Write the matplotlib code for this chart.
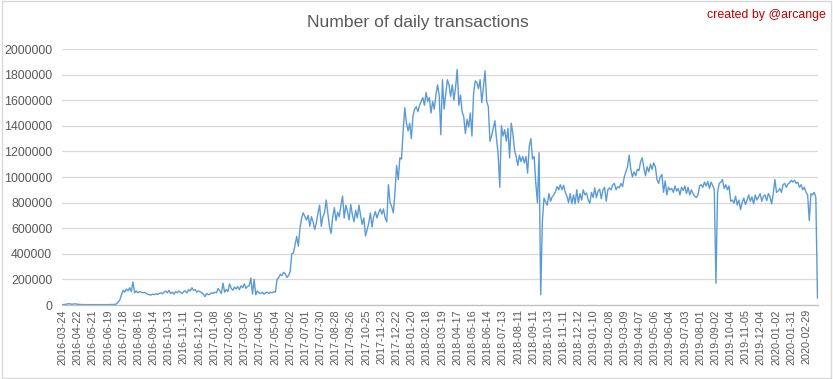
import numpy as np
import matplotlib
matplotlib.use("Agg")
import matplotlib.pyplot as plt

# tick labels on the category axis (one every 29 days of data)
tick_labels = [
    "2016-03-24", "2016-04-22", "2016-05-21", "2016-06-19", "2016-07-18", "2016-08-16",
    "2016-09-14", "2016-10-13", "2016-11-11", "2016-12-10", "2017-01-08", "2017-02-06",
    "2017-03-07", "2017-04-05", "2017-05-04", "2017-06-02", "2017-07-01", "2017-07-30",
    "2017-08-28", "2017-09-26", "2017-10-25", "2017-11-23", "2017-12-22", "2018-01-20",
    "2018-02-18", "2018-03-19", "2018-04-17", "2018-05-16", "2018-06-14", "2018-07-13",
    "2018-08-11", "2018-09-11", "2018-10-13", "2018-11-11", "2018-12-12", "2019-01-10",
    "2019-02-08", "2019-03-09", "2019-04-07", "2019-05-06", "2019-06-04", "2019-07-03",
    "2019-08-01", "2019-09-02", "2019-10-04", "2019-11-05", "2019-12-04", "2020-01-02",
    "2020-01-31", "2020-02-29",
]
tick_every = 29
last_day = 1442  # index of the last data day

tx_2016 = [2, 4, 6, 8, 10, 7, 6, 8, 9, 6, 5, 4, 4, 3, 3, 3, 3, 3, 3, 3, 3, 3, 3, 3, 3, 3, 3,
           3, 3, 3, 4, 4, 5,
           8, 25, 40, 80, 115, 100, 125, 110, 135, 105, 180, 95,
           110, 95, 105, 100, 95, 100, 90, 85, 80, 78, 85, 80, 88, 82, 90, 95, 88, 100, 108,
           95, 115, 90, 100, 85, 105, 95, 110, 100, 90, 105, 110, 95, 120, 110, 135, 115, 120,
           100, 110]
tx_2017 = [105, 95, 85, 65, 90, 80, 85, 95, 90, 100,
           95, 130, 110, 90, 170, 100, 120, 105, 165, 130, 115, 140, 125, 145, 120, 150, 135,
           165, 130, 145,
           150, 210, 85, 200, 80, 110, 95, 90, 100, 85, 95, 100, 90, 100, 95, 105, 100,
           200, 215, 240, 230, 255, 245, 215, 230, 260, 400,
           405, 470, 536, 460, 600, 680, 720, 690, 665, 700, 615, 690, 650, 590, 640, 720, 780,
           615, 690, 720, 820, 720, 615, 560, 690, 760, 660, 725, 690, 780, 850, 680, 780, 730,
           665, 785, 705, 650, 740, 680, 780, 700, 630, 680, 540, 590, 640, 720, 610, 690, 730,
           680, 720, 750, 710, 750, 680, 650]
tx_2018 = [940, 800, 770, 720, 880, 1090, 980, 1150, 1140, 1360, 1540, 1420, 1360, 1420, 1300,
           1480, 1530, 1550, 1510, 1560, 1590, 1620, 1560, 1660, 1590, 1620, 1500, 1590, 1530,
           1640, 1720, 1640, 1330, 1760, 1530, 1650, 1760, 1720, 1630, 1720, 1600, 1700, 1840,
           1560, 1640, 1510, 1470, 1340, 1450, 1390, 1500, 1320, 1650, 1750, 1740, 1690, 1760,
           1580, 1700, 1830, 1590, 1550, 1280, 1320, 1380, 1440, 1300, 1180, 920, 1400, 1320,
           1370, 1280, 1380, 1150, 1420, 1340, 1210, 1160, 1090, 1170, 1120, 1160, 1110, 1160,
           1030, 1240, 1300, 1140, 1160, 950, 800, 1190]
tx_2019 = [80, 650, 835, 805, 780, 870, 810, 845, 860, 885, 925, 900, 940, 900, 935, 880, 850,
           800, 870, 790, 860, 790, 900, 800, 870, 820, 900, 860, 875, 820, 795, 880, 840, 915,
           840, 890, 905, 830, 900, 920, 810, 900, 915, 900, 940, 950, 900, 925, 915, 950, 925,
           1000, 1040, 1080, 1170, 1060, 1000, 1040, 1010, 1060, 1050, 1120, 1150, 1070, 1010,
           1080, 1040, 1100, 1060, 1110, 1080, 980, 950, 1000, 1020, 880, 970, 860, 920, 900,
           910, 880, 930, 890, 910, 860, 920, 895, 930, 870, 920, 860, 900, 870, 850, 840, 860,
           930, 940, 920, 960, 930, 965, 910, 960, 935, 900, 170, 880, 950, 960, 980, 910, 940,
           900, 930, 810, 820, 795, 850, 780, 820, 745, 800, 835, 785, 820, 860, 810, 845, 790,
           860, 820, 845, 870, 810, 850, 860, 815, 870, 845, 790, 870, 980, 880, 890, 910, 880,
           940, 950, 920, 945, 955, 975, 960, 975, 950, 960, 920, 940, 900, 920, 880, 860, 660,
           870, 860, 880, 840, 55]

tx = np.array(tx_2016 + tx_2017 + tx_2018 + tx_2019) * 1000
day = np.linspace(0, last_day, len(tx))

grey = "#595959"
grid_c = "#D9D9D9"

fig = plt.figure(figsize=(8.33, 3.79), dpi=100)
ax = fig.add_axes([62 / 833, 1 - 305 / 379, (818 - 62) / 833, (305 - 49) / 379])

ax.plot(day, tx, color="#5B9BD5", lw=1.0)

ax.set_xlim(-1, last_day + 1)
ax.set_ylim(0, 2000000)
ax.set_yticks(np.arange(0, 2000001, 200000))
ax.set_yticklabels([str(v) for v in range(0, 2000001, 200000)],
                   fontsize=8.9, color=grey, family="Liberation Sans")
ax.set_xticks(np.arange(len(tick_labels)) * tick_every)
ax.set_xticklabels(tick_labels, rotation=90, fontsize=7.8, color=grey,
                   family="Liberation Sans")
ax.tick_params(axis="y", length=0, pad=7)
ax.tick_params(axis="x", length=0, pad=3)

ax.grid(axis="y", color=grid_c, lw=0.9)
ax.set_axisbelow(True)
for s in ["top", "right", "left"]:
    ax.spines[s].set_visible(False)
ax.spines["bottom"].set_color("#BFBFBF")
ax.spines["bottom"].set_linewidth(0.9)

fig.text(418 / 833, 1 - 22 / 379, "Number of daily transactions", ha="center", va="center",
         fontsize=12.6, color=grey, family="Liberation Sans")
fig.text(826 / 833, 1 - 15 / 379, "created by @arcange", ha="right", va="center",
         fontsize=8.9, color="#C00000", family="Liberation Sans")

# thin border round the chart area
fig.patches.append(plt.Rectangle((0.002, 0.003), 0.995, 0.994, transform=fig.transFigure,
                                 fill=False, edgecolor=grid_c, lw=1.0))

fig.savefig("out.png", dpi=100)
